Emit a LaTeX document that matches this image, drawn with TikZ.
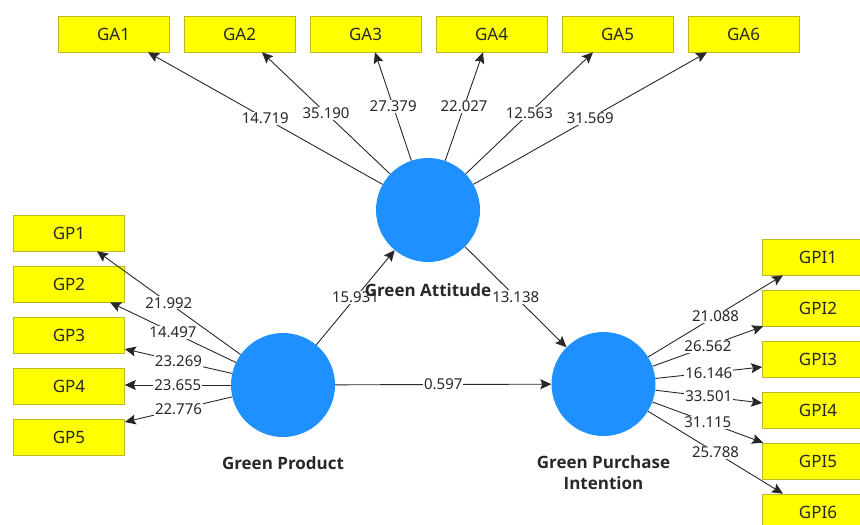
\documentclass[tikz,border=0pt]{standalone}
\usepackage{fontspec}
\setmainfont{Noto Sans}
\newfontfamily\namefont{Open Sans}
\usetikzlibrary{arrows.meta,calc}
\definecolor{lvblue}{RGB}{30,144,255}
\definecolor{indfill}{RGB}{255,255,0}
\definecolor{indborder}{RGB}{185,185,40}
\definecolor{ink}{RGB}{40,40,40}
\begin{document}
\begin{tikzpicture}[x=1pt,y=-1pt,
  lv/.style={circle,fill=lvblue,minimum size=104pt,inner sep=0pt},
  mv/.style={rectangle,fill=indfill,draw=indborder,line width=0.6pt,minimum width=111pt,minimum height=36pt,inner sep=0pt,font=\fontsize{17}{19}\selectfont,text=ink},
  arr/.style={draw=ink,line width=0.9pt,-{Stealth[length=11pt,width=10pt,inset=2pt]}},
  lbl/.style={fill=white,inner sep=1pt,text=ink,font=\fontsize{15}{17}\selectfont},
  lvname/.style={font=\namefont\bfseries\fontsize{17}{21}\selectfont,text=ink,align=center}]
\useasboundingbox (0,0) rectangle (860,525);
\clip (0,0) rectangle (860,525);

% latent variables
\node[lv] (ga) at (428,210) {};
\node[lv] (gp) at (283,385) {};
\node[lv] (gpi) at (603.5,384) {};

% GA indicators
\node[mv] (ga1) at (113.5,34) {GA1};
\node[mv] (ga2) at (239.5,34) {GA2};
\node[mv] (ga3) at (365.5,34) {GA3};
\node[mv] (ga4) at (491.5,34) {GA4};
\node[mv] (ga5) at (617.5,34) {GA5};
\node[mv] (ga6) at (743.5,34) {GA6};

% GP indicators
\node[mv] (gp1) at (69,233) {GP1};
\node[mv] (gp2) at (69,284) {GP2};
\node[mv] (gp3) at (69,335) {GP3};
\node[mv] (gp4) at (69,386) {GP4};
\node[mv] (gp5) at (69,437) {GP5};

% GPI indicators
\node[mv] (gpi1) at (818,257) {GPI1};
\node[mv] (gpi2) at (818,308) {GPI2};
\node[mv] (gpi3) at (818,359) {GPI3};
\node[mv] (gpi4) at (818,410) {GPI4};
\node[mv] (gpi5) at (818,461) {GPI5};
\node[mv] (gpi6) at (818,512) {GPI6};

% arrow end points
\coordinate (ta1) at ($(ga1.south)+(34.5,0)$);
\coordinate (ta2) at ($(ga2.south)+(22.5,0)$);
\coordinate (ta3) at ($(ga3.south)+(9.5,0)$);
\coordinate (ta4) at ($(ga4.south)+(-8.5,0)$);
\coordinate (ta5) at ($(ga5.south)+(-24.5,0)$);
\coordinate (ta6) at ($(ga6.south)+(-36.5,0)$);

\coordinate (tp1) at ($(gp1.south)+(28,0)$);
\coordinate (tp2) at ($(gp2.south)+(41,0)$);
\coordinate (tp3) at ($(gp3.east)+(0,14)$);
\coordinate (tp4) at ($(gp4.east)+(0,-1)$);
\coordinate (tp5) at ($(gp5.east)+(0,-15)$);

\coordinate (ti1) at ($(gpi1.south)+(-35,0)$);
\coordinate (ti2) at ($(gpi2.south west)+(1,0)$);
\coordinate (ti3) at ($(gpi3.west)+(0,8)$);
\coordinate (ti4) at ($(gpi4.west)+(0,-7)$);
\coordinate (ti5) at ($(gpi5.north west)+(1,0)$);
\coordinate (ti6) at ($(gpi6.north)+(-35,0)$);

% outer loadings GA
\draw[arr] (ga) -- (ta1) node[midway,lbl] {14.719};
\draw[arr] (ga) -- (ta2) node[midway,lbl] {35.190};
\draw[arr] (ga) -- (ta3) node[midway,lbl] {27.379};
\draw[arr] (ga) -- (ta4) node[midway,lbl] {22.027};
\draw[arr] (ga) -- (ta5) node[midway,lbl] {12.563};
\draw[arr] (ga) -- (ta6) node[midway,lbl] {31.569};

% outer loadings GP
\draw[arr] (gp) -- (tp1) node[midway,lbl] {21.992};
\draw[arr] (gp) -- (tp2) node[midway,lbl] {14.497};
\draw[arr] (gp) -- (tp3) node[midway,lbl] {23.269};
\draw[arr] (gp) -- (tp4) node[midway,lbl] {23.655};
\draw[arr] (gp) -- (tp5) node[midway,lbl] {22.776};

% outer loadings GPI
\draw[arr] (gpi) -- (ti1) node[midway,lbl] {21.088};
\draw[arr] (gpi) -- (ti2) node[midway,lbl] {26.562};
\draw[arr] (gpi) -- (ti3) node[midway,lbl] {16.146};
\draw[arr] (gpi) -- (ti4) node[midway,lbl] {33.501};
\draw[arr] (gpi) -- (ti5) node[midway,lbl] {31.115};
\draw[arr] (gpi) -- (ti6) node[midway,lbl] {25.788};

% structural paths
\draw[arr] (gp) -- (ga) node[midway,lbl] {15.931};
\draw[arr] (ga) -- (gpi) node[midway,lbl] {13.138};
\draw[arr] (gp) -- (gpi) node[midway,lbl] {0.597};

% construct names
\node[lvname] (nga) at (428,290) {Green Attitude};
\node[lvname] (ngp) at (283,463) {Green Product};
\node[lvname] (ngpi) at (603.5,473) {Green Purchase\\Intention};
\end{tikzpicture}
\end{document}
